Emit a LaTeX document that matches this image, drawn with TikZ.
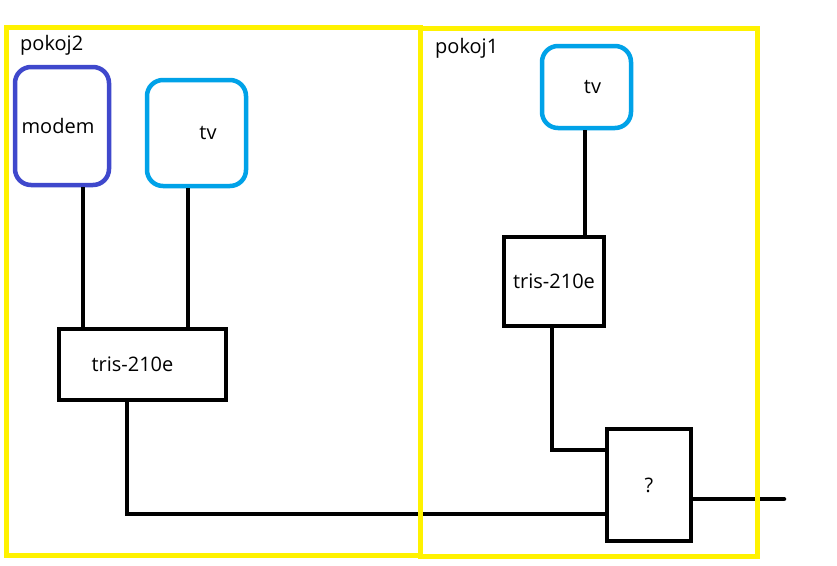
\documentclass[tikz,border=0pt]{standalone}
\usepackage{fontspec}
\setmainfont{Open Sans}
\usetikzlibrary{positioning}

\definecolor{roomyellow}{HTML}{FFF200}
\definecolor{modemblue}{HTML}{3F48CC}
\definecolor{tvblue}{HTML}{00A2E8}

\begin{document}
\begin{tikzpicture}[x=1pt, y=-1pt, line join=miter,
  font=\fontsize{20}{24}\selectfont,
  room/.style={draw=roomyellow, line width=5pt},
  device/.style={draw, line width=4.5pt, rounded corners=16pt, inner sep=0pt},
  box/.style={draw, line width=4.5pt, inner sep=0pt},
  wire/.style={line width=4.5pt}]

  \useasboundingbox (0,0) rectangle (837,565);

  % devices
  \node[device, draw=modemblue, minimum width=94, minimum height=118] (modem) at (62,126) {\hspace*{-8pt}modem};
  \node[device, draw=tvblue, minimum width=99, minimum height=106] (tv2) at (196.5,133) {\hspace*{23pt}tv};
  \node[device, draw=tvblue, minimum width=89, minimum height=82] (tv1) at (586.5,87) {\hspace*{12pt}tv};

  % splitters
  \node[box, minimum width=167, minimum height=71] (tris2) at (142.5,364.5) {\hspace*{-20pt}tris-210e};
  \node[box, minimum width=100, minimum height=89] (tris1) at (554,281.5) {tris-210e};
  \node[box, minimum width=84, minimum height=112] (q) at (649,485) {?};
  \coordinate (out) at (784,499);

  % wires (yshift is in page units, so down is negative)
  \draw[wire] ([xshift=21pt] modem.south) -- ([xshift=21pt] modem.south |- tris2.north);
  \draw[wire] ([xshift=-8.5pt] tv2.south) -- ([xshift=-8.5pt] tv2.south |- tris2.north);
  \draw[wire] ([xshift=-15.5pt] tris2.south) |- ([yshift=-29pt] q.west);
  \draw[wire] ([xshift=-1.5pt] tv1.south) -- ([xshift=-1.5pt] tv1.south |- tris1.north);
  \draw[wire] ([xshift=-2pt] tris1.south) |- ([yshift=35pt] q.west);
  \draw[wire, line cap=round] ([yshift=-14pt] q.east) -- (out);

  % rooms
  \draw[room] (6,27) rectangle (420.5,555);
  \draw[room] (420.5,28) rectangle (757.5,556);
  \node[anchor=base west, inner sep=0pt] (pokoj2) at (20,50) {pokoj2};
  \node[anchor=base west, inner sep=0pt] (pokoj1) at (435,53) {pokoj1};

\end{tikzpicture}
\end{document}
